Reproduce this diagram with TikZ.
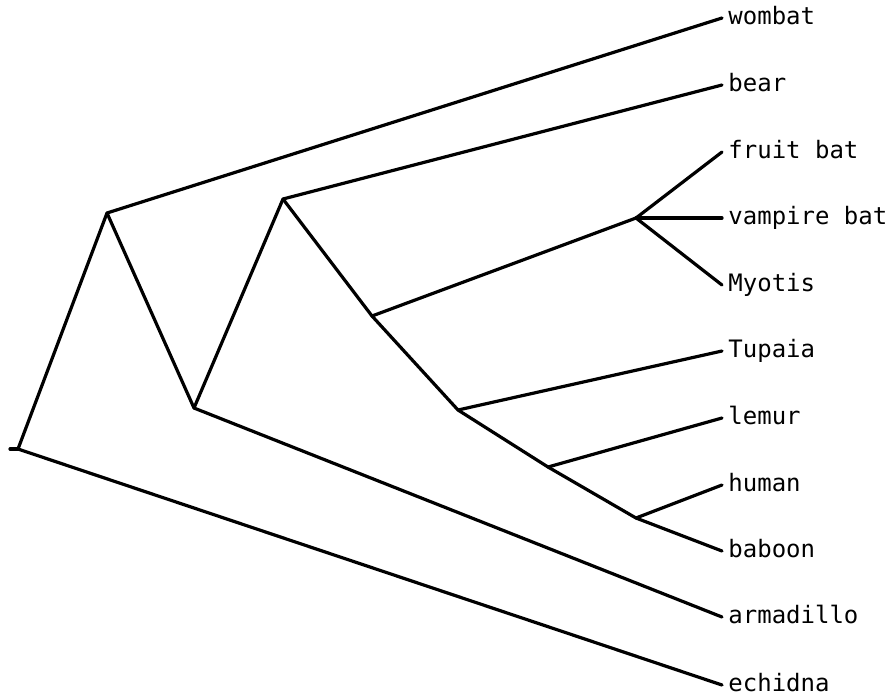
\documentclass[tikz,border=0pt]{standalone}
\usepackage{fontspec}
\setmonofont{DejaVu Sans Mono}
\begin{document}
\begin{tikzpicture}[x=0.5pt,y=-0.5pt,
  branch/.style={line width=1.6pt,line cap=round,line join=round},
  leaf/.style={anchor=mid west,inner sep=0pt,font=\ttfamily\fontsize{12}{14}\selectfont}]
\useasboundingbox (0,0) rectangle (889,698);
% internal nodes
\coordinate (root) at (18,449);
\coordinate (rootstub) at (10,449);
\coordinate (A) at (107,213);
\coordinate (B) at (194,408);
\coordinate (C) at (283,199);
\coordinate (D) at (372,316);
\coordinate (E) at (636,218);
\coordinate (F) at (458,410);
\coordinate (G) at (548,467);
\coordinate (H) at (636,518);
% leaves
\coordinate (wombat) at (722,18);
\coordinate (bear) at (722,85);
\coordinate (fruitbat) at (722,152);
\coordinate (vampirebat) at (722,218);
\coordinate (myotis) at (722,285);
\coordinate (tupaia) at (722,351);
\coordinate (lemur) at (722,418);
\coordinate (human) at (722,485);
\coordinate (baboon) at (722,551);
\coordinate (armadillo) at (722,617);
\coordinate (echidna) at (722,685);
\tikzset{labelat/.style={xshift=3pt,yshift=-1.3pt}}
\node[leaf] (Lwombat) at ([labelat]wombat) {wombat};
\node[leaf] (Lbear) at ([labelat]bear) {bear};
\node[leaf] (Lfruitbat) at ([labelat]fruitbat) {fruit bat};
\node[leaf] (Lvampirebat) at ([labelat]vampirebat) {vampire bat};
\node[leaf] (Lmyotis) at ([labelat]myotis) {Myotis};
\node[leaf] (Ltupaia) at ([labelat]tupaia) {Tupaia};
\node[leaf] (Llemur) at ([labelat]lemur) {lemur};
\node[leaf] (Lhuman) at ([labelat]human) {human};
\node[leaf] (Lbaboon) at ([labelat]baboon) {baboon};
\node[leaf] (Larmadillo) at ([labelat]armadillo) {armadillo};
\node[leaf] (Lechidna) at ([labelat]echidna) {echidna};
% branches
\draw[branch] (rootstub) -- (root);
\draw[branch] (root) -- (A);
\draw[branch] (root) -- (echidna);
\draw[branch] (A) -- (wombat);
\draw[branch] (A) -- (B);
\draw[branch] (B) -- (armadillo);
\draw[branch] (B) -- (C);
\draw[branch] (C) -- (bear);
\draw[branch] (C) -- (D);
\draw[branch] (D) -- (E);
\draw[branch] (E) -- (fruitbat);
\draw[branch] (E) -- (vampirebat);
\draw[branch] (E) -- (myotis);
\draw[branch] (D) -- (F);
\draw[branch] (F) -- (tupaia);
\draw[branch] (F) -- (G);
\draw[branch] (G) -- (lemur);
\draw[branch] (G) -- (H);
\draw[branch] (H) -- (human);
\draw[branch] (H) -- (baboon);
\end{tikzpicture}
\end{document}
